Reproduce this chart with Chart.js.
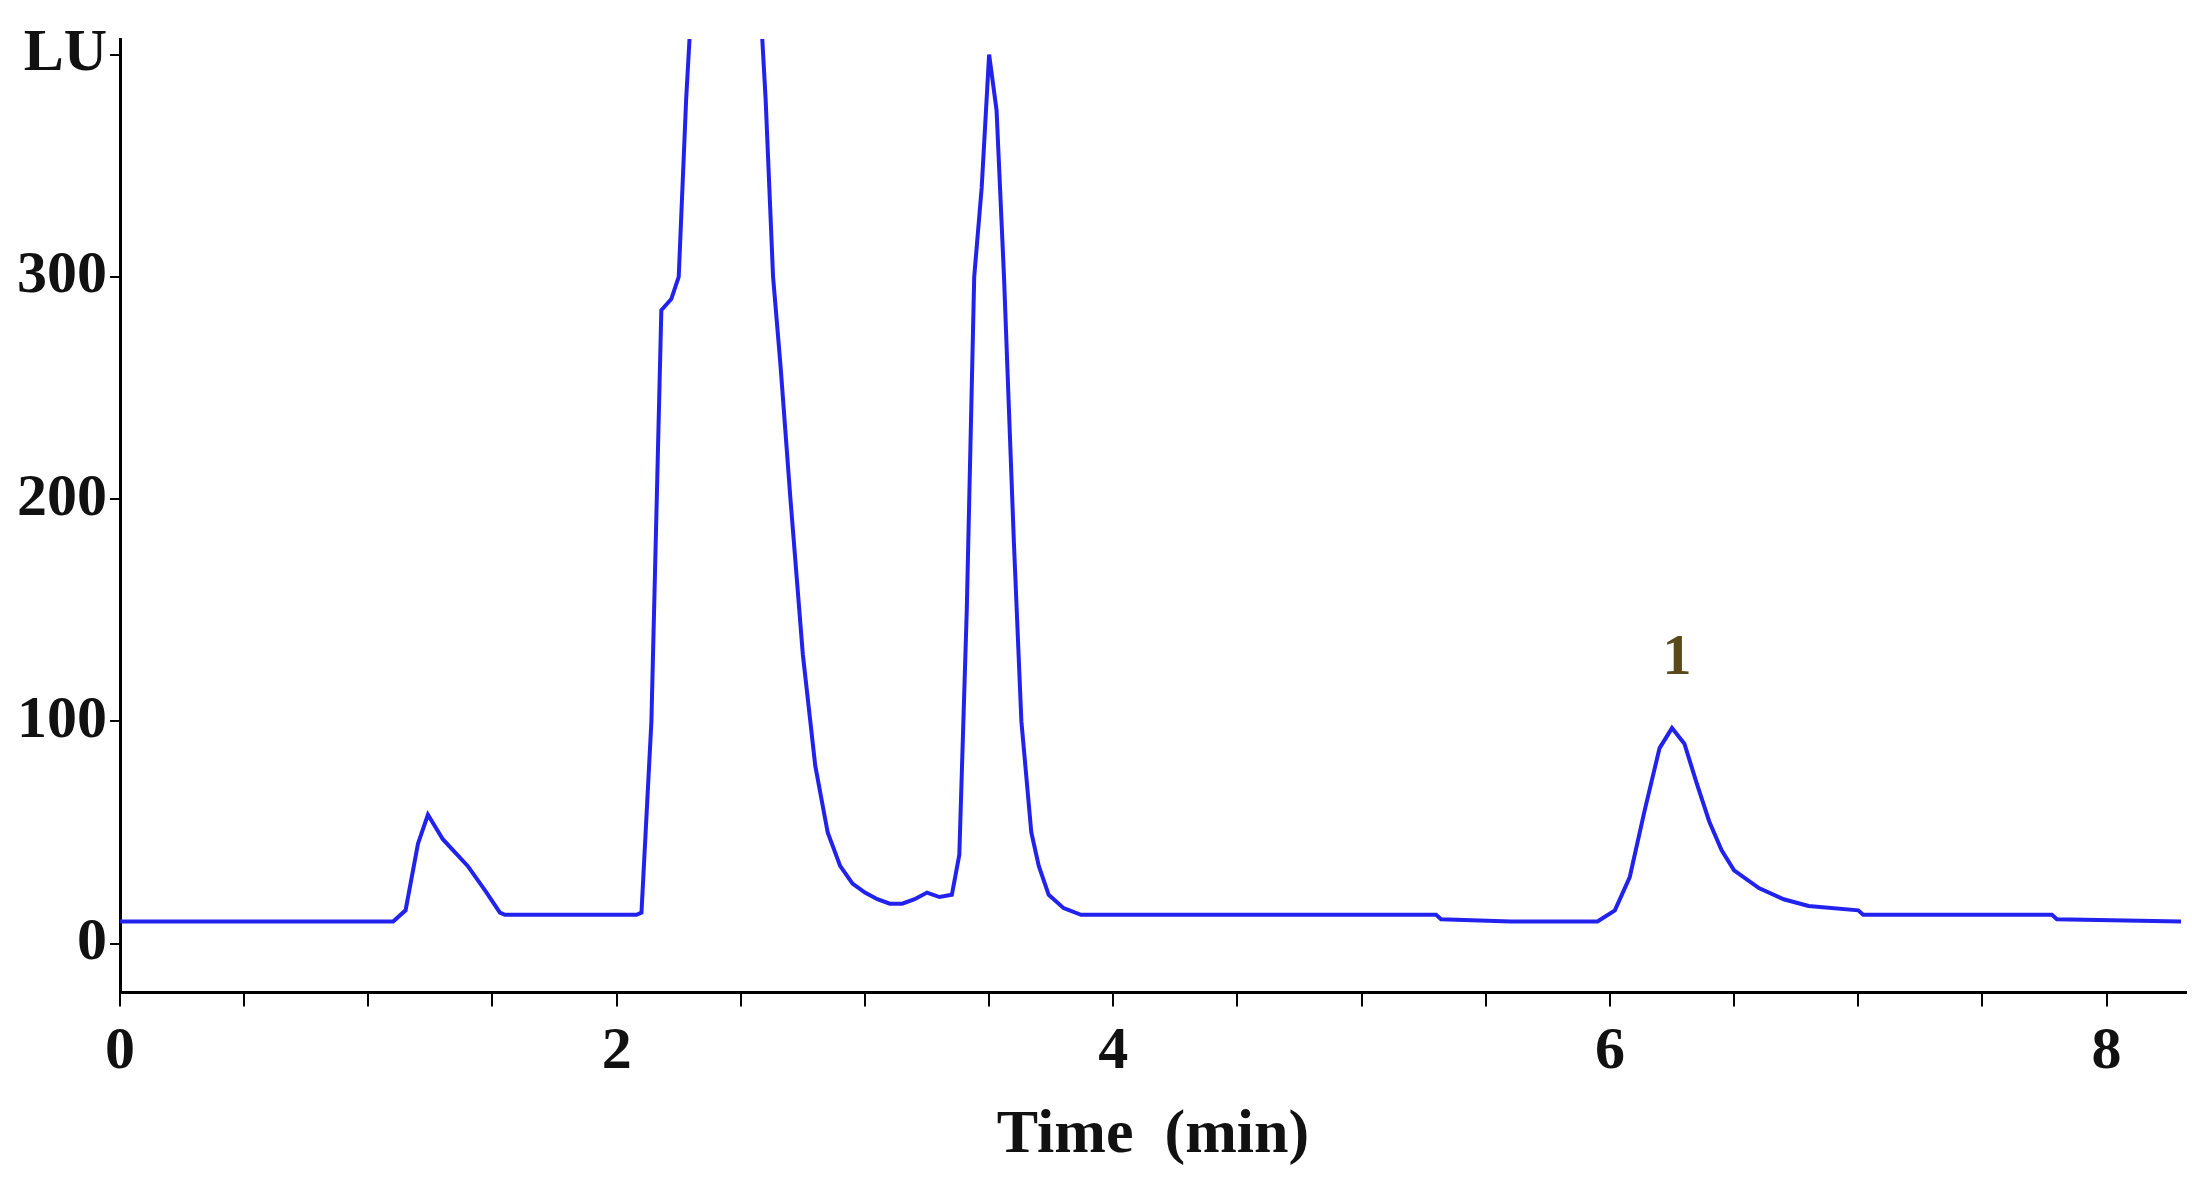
<!DOCTYPE html>
<html><head><script src="https://cdn.jsdelivr.net/npm/chart.js@4"></script>
<style>html,body{margin:0;background:#fff}#w{width:2192px;height:1199px}</style></head>
<body><div id="w"><canvas id="c"></canvas></div>
<script>
const times = [0,0.5,1.0,1.1,1.15,1.2,1.24,1.3,1.4,1.47,1.53,1.55,1.8,2.08,2.1,2.14,2.18,2.22,2.25,2.28,2.3,2.45,2.58,2.6,2.63,2.66,2.7,2.75,2.8,2.85,2.9,2.95,3.0,3.05,3.1,3.15,3.2,3.25,3.3,3.35,3.38,3.41,3.44,3.47,3.5,3.53,3.56,3.6,3.63,3.67,3.7,3.74,3.8,3.87,3.95,4.5,5.0,5.3,5.32,5.6,5.95,6.02,6.08,6.14,6.2,6.25,6.3,6.35,6.4,6.45,6.5,6.6,6.7,6.8,7.0,7.02,7.5,7.78,7.8,8.3];
const lu    = [10,10,10,10,15,45,58,47,35,24,14,13,13,13,14,100,285,290,300,380,420,600,420,380,300,260,200,130,80,50,35,27,23,20,18,18,20,23,21,22,40,150,300,340,400,375,300,180,100,50,35,22,16,13,13,13,13,13,11,10,10,15,30,60,88,97,90,72,55,42,33,25,20,17,15,13,13,13,11,10];
const yTicks = [0,100,200,300];
const peakLabel = {t:6.27, v:115, text:'1'};

const annot = {id:'annot', afterDatasetsDraw(ch){
  const {ctx,scales:{x,y}} = ch;
  ctx.save(); ctx.font='bold 58px "Liberation Serif"'; ctx.fillStyle='#5a4a1a'; ctx.textAlign='center'; ctx.textBaseline='bottom';
  ctx.fillText(peakLabel.text, x.getPixelForValue(peakLabel.t), y.getPixelForValue(peakLabel.v));
  ctx.restore();
}};
new Chart(document.getElementById('c'), {
  type:'line',
  data:{datasets:[{data:times.map((t,i)=>({x:t,y:lu[i]})), borderColor:'#2222ee', borderWidth:4, pointRadius:0, tension:0}]},
  options:{responsive:true, maintainAspectRatio:false, animation:false,
    layout:{padding:{left:14,right:6,top:36,bottom:22}},
    plugins:{legend:{display:false}, tooltip:{enabled:false}},
    scales:{
      x:{type:'linear', min:0, max:8.32,
        grid:{drawOnChartArea:false, tickLength:14, color:'#000', lineWidth:2},
        border:{color:'#000', width:3},
        afterBuildTicks(ax){ const t=[]; for(let v=0; v<=8.3; v+=0.5) t.push({value:v}); ax.ticks=t; },
        ticks:{autoSkip:false, padding:10, color:'#111', font:{family:'Liberation Serif', size:60, weight:'bold'}, callback:v=>(Math.abs(v%2)<1e-6?String(v):'')},
        title:{display:true, text:'Time  (min)', padding:{top:0}, color:'#111', font:{family:'Liberation Serif', size:62, weight:'bold'}}},
      y:{min:-22, max:407,
        grid:{drawOnChartArea:false, tickLength:10, color:'#000', lineWidth:2},
        border:{color:'#000', width:3},
        afterBuildTicks(ax){ ax.ticks=[...yTicks,400].map(v=>({value:v})); },
        ticks:{autoSkip:false, color:'#111', font:{family:'Liberation Serif', size:60, weight:'bold'}, callback:v=>(v===400?'LU':String(v))}}
    }},
  plugins:[annot]
});
</script></body></html>
